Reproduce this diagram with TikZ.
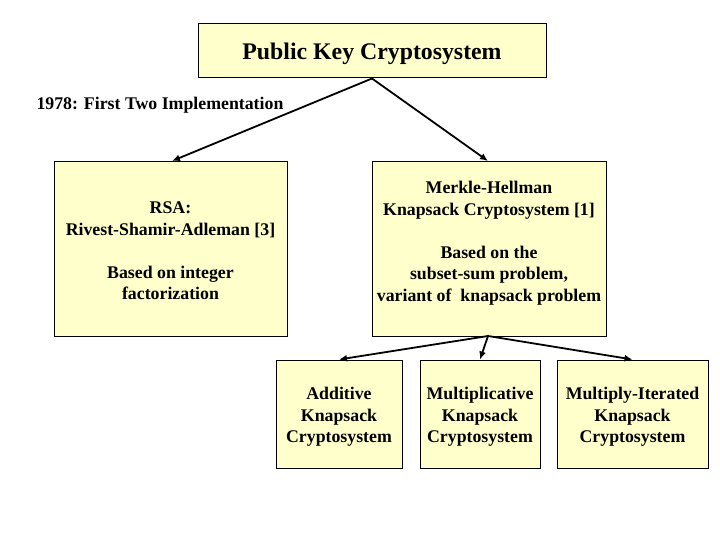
\documentclass[tikz,border=0pt]{standalone}
\usepackage{fontspec}
\setmainfont{Liberation Serif}
\usetikzlibrary{arrows.meta}
\definecolor{boxfill}{HTML}{FFFFCC}
\begin{document}
\begin{tikzpicture}[x=1pt,y=-1pt,
  box/.style={draw=black, fill=boxfill, line width=1pt, inner sep=0pt, align=center, font=\bfseries\fontsize{17.8}{21.5}\selectfont},
  txt/.style={align=center, font=\bfseries\fontsize{17.8}{21.5}\selectfont},
  arr/.style={-{Latex[length=8pt,width=7pt]}, line width=1.8pt}]
\useasboundingbox (0,0) rectangle (720,540);
\node[box, minimum width=348pt, minimum height=54pt] (pk) at (372,51) {};
\node[font=\bfseries\fontsize{23.8}{26}\selectfont] (pkt) at (372,54) {Public Key Cryptosystem};
\node[anchor=west, font=\bfseries\fontsize{17.8}{20}\selectfont] (lbl) at (33,105) {1978: First Two Implementation};
\node[box, minimum width=233pt, minimum height=174pt] (rsa) at (170.5,249) {};
\node[txt] (rsat) at (170.5,251) {RSA:\\Rivest-Shamir-Adleman [3]\\[21.5pt]Based on integer\\factorization};
\node[box, minimum width=234pt, minimum height=174pt] (mh) at (489,249) {};
\node[txt] (mht) at (489,243) {Merkle-Hellman\\Knapsack Cryptosystem [1]\\[21.5pt]Based on the\\subset-sum problem,\\variant of\ \ knapsack problem};
\node[box, minimum width=126pt, minimum height=108pt] (add) at (339,414) {};
\node[txt] (addt) at (339,417) {Additive\\Knapsack\\Cryptosystem};
\node[box, minimum width=120pt, minimum height=108pt] (mul) at (480,414) {};
\node[txt] (mult) at (480,417) {Multiplicative\\Knapsack\\Cryptosystem};
\node[box, minimum width=151pt, minimum height=108pt] (mit) at (632.5,414) {};
\node[txt] (mitt) at (632.5,417) {Multiply-Iterated\\Knapsack\\Cryptosystem};
\coordinate (pkb) at (pk.south);
\coordinate (mhb) at (488,336);
\draw[arr] (pkb) -- (172,161);
\draw[arr] (pkb) -- (488,161);
\draw[arr] (mhb) -- (add.north);
\draw[arr] (mhb) -- (mul.north);
\draw[arr] (mhb) -- (mit.north);
\end{tikzpicture}
\end{document}
